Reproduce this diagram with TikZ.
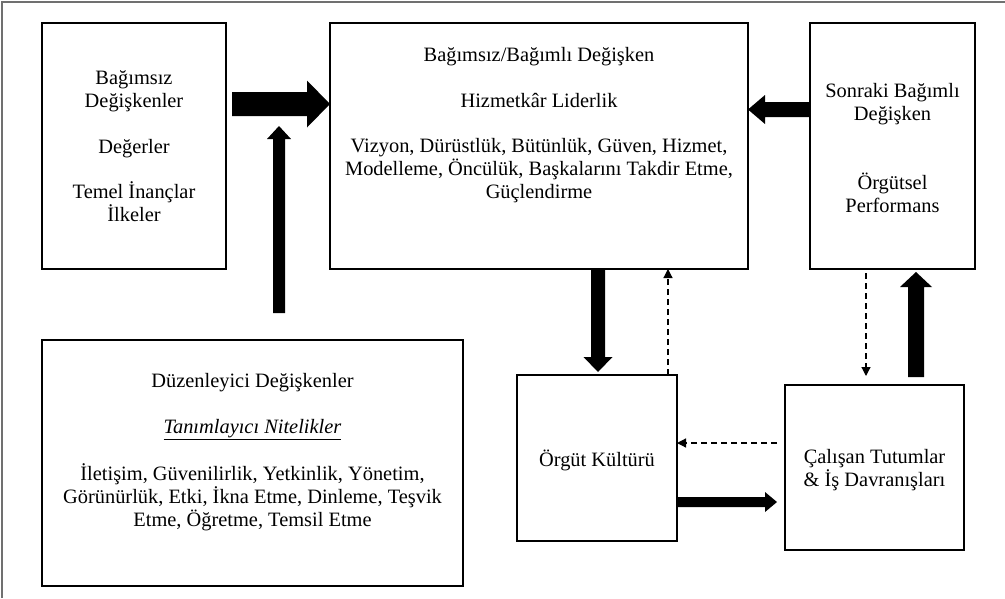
\documentclass[tikz,border=0pt]{standalone}
\usepackage{fontspec}
\setmainfont{Liberation Serif}
\usetikzlibrary{calc,arrows.meta}
\definecolor{framegray}{HTML}{707070}
\newcommand\fatarrow[5]{% from, to, shaft half width, head half width, head length
  \path ($(#2)!#5!(#1)$) coordinate (fab);
  \fill ($(#1)!#3!90:(#2)$) -- ($(fab)!#3!90:(#2)$) -- ($(fab)!#4!90:(#2)$) -- (#2)
     -- ($(fab)!#4!-90:(#2)$) -- ($(fab)!#3!-90:(#2)$) -- ($(#1)!#3!-90:(#2)$) -- cycle;
}
\tikzset{
  box/.style={draw=black, line width=1.7pt, rectangle, inner sep=0pt, outer sep=0pt, anchor=north west},
  txt/.style={align=center, inner sep=0pt, font=\fontsize{20.4}{22.8}\selectfont},
  dasharrow/.style={line width=1.2pt, dash pattern=on 6pt off 4pt, -{Triangle[length=9pt,width=9pt]}},
}
\begin{document}
\begin{tikzpicture}[x=1pt,y=-1pt]
\useasboundingbox (0,0) rectangle (1005,598);
% outer frame (top and left edges)
\draw[framegray, line width=1.4pt] (2,598) -- (2,2) -- (1005,2);

% boxes
\node[box, minimum width=184pt, minimum height=246pt] (A) at (42,23) {};
\node[box, minimum width=418pt, minimum height=246pt] (B) at (330,23) {};
\node[box, minimum width=165pt, minimum height=246pt] (C) at (810,23) {};
\node[box, minimum width=421pt, minimum height=246pt] (D) at (42,340) {};
\node[box, minimum width=160pt, minimum height=166pt] (E) at (517,375) {};
\node[box, minimum width=179pt, minimum height=165pt] (F) at (785,385) {};

% texts
\node[txt] (tA) at (134,146.5) {Bağımsız\\Değişkenler\\[22.8pt]Değerler\\[22.8pt]Temel İnançlar\\İlkeler};
\node[txt] (tB) at (539,125) {Bağımsız/Bağımlı Değişken\\[22.8pt]Hizmetkâr Liderlik\\[22.8pt]Vizyon, Dürüstlük, Bütünlük, Güven, Hizmet,\\Modelleme, Öncülük, Başkalarını Takdir Etme,\\Güçlendirme};
\node[txt] (tC) at (892.5,148) {Sonraki Bağımlı\\Değişken\\[47pt]Örgütsel\\Performans};
\node[txt] (tD) at (252.5,452) {Düzenleyici Değişkenler\\[22.8pt]\underline{\textit{Tanımlayıcı Nitelikler}}\\[22.8pt]İletişim, Güvenilirlik, Yetkinlik, Yönetim,\\Görünürlük, Etki, İkna Etme, Dinleme, Teşvik\\Etme, Öğretme, Temsil Etme};
\node[txt] (tE) at (597,460) {Örgüt Kültürü};
\node[txt] (tF) at (874.5,470) {Çalışan Tutumlar\\\& İş Davranışları};

% free ends of connectors
\coordinate (a1s) at (232,104);
\coordinate (a2s) at (279,313);
\coordinate (a2t) at (279,126);
\coordinate (a3y) at (0,109.5);
\coordinate (a4x) at (598,0);
\coordinate (a4t) at (598,372);
\coordinate (a5y) at (0,502);
\coordinate (a5t) at (777,502);
\coordinate (a6s) at (916,377);
\coordinate (a6t) at (916,272);
\coordinate (d1x) at (668,0);
\coordinate (d2s) at (777,443);
\coordinate (d3s) at (866,273);
\coordinate (d3t) at (866,376);

% thick arrows
\fatarrow{a1s}{a1s -| B.west}{12pt}{23.5pt}{23pt}
\fatarrow{a2s}{a2t}{6pt}{12pt}{13pt}
\fatarrow{C.west |- a3y}{B.east |- a3y}{7.5pt}{14.5pt}{17pt}
\fatarrow{B.south -| a4x}{a4t}{7pt}{14.5pt}{15pt}
\fatarrow{E.east |- a5y}{a5t}{5pt}{10pt}{12pt}
\fatarrow{a6s}{a6t}{8pt}{16pt}{15pt}

% dashed arrows
\draw[dasharrow] (E.north -| d1x) -- (B.south -| d1x);
\draw[dasharrow] (d2s) -- (E.east |- d2s);
\draw[dasharrow] (d3s) -- (d3t);
\end{tikzpicture}
\end{document}
